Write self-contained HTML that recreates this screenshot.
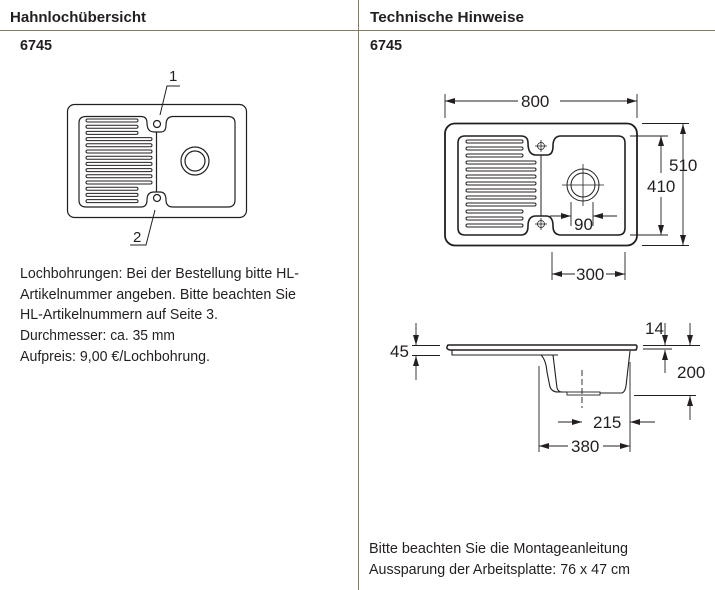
<!DOCTYPE html>
<html><head><meta charset="utf-8"><style>
html,body{margin:0;padding:0;background:#fff;width:715px;height:590px;overflow:hidden}
svg{display:block}
text{font-family:"Liberation Sans",sans-serif;fill:#231f20}
.h{font-weight:bold;font-size:15px}
.t{font-size:15px}
.d{font-size:17px}
</style></head><body>
<svg width="715" height="590" viewBox="0 0 715 590" xmlns="http://www.w3.org/2000/svg">
<defs>
<marker id="a" viewBox="0 0 10 6" refX="10" refY="3" markerWidth="10" markerHeight="6" orient="auto-start-reverse" markerUnits="userSpaceOnUse"><path d="M0,0L10,3L0,6z" fill="#231f20"/></marker>
</defs>
<line x1="0" y1="30.5" x2="715" y2="30.5" stroke="#8a7a60" stroke-width="1"/>
<line x1="358.5" y1="0" x2="358.5" y2="590" stroke="#8a7a60" stroke-width="1"/>
<text class="h" x="10" y="22" textLength="136" lengthAdjust="spacingAndGlyphs">Hahnlochübersicht</text>
<text class="h" x="20" y="50" textLength="32" lengthAdjust="spacingAndGlyphs">6745</text>
<text class="h" x="370" y="22" textLength="154" lengthAdjust="spacingAndGlyphs">Technische Hinweise</text>
<text class="h" x="370" y="50" textLength="32" lengthAdjust="spacingAndGlyphs">6745</text>

<g fill="none" stroke="#231f20" stroke-width="1.2">
<rect x="67.5" y="104.5" width="179" height="113" rx="7"/>
<path d="M86,116.5 H141 Q147,116.5 147,123 Q147,132 154,132 H161 Q166,132 166,125 Q166,116.5 173,116.5 H228 Q235,116.5 235,123 V200 Q235,207 228,207 H173 Q166,207 166,200 Q166,192 160,192 H154 Q147,192 147,200 Q147,207 141,207 H86 Q79,207 79,200 V123 Q79,116.5 86,116.5 Z"/>
<line x1="156.5" y1="132" x2="156.5" y2="192"/>
<circle cx="157" cy="124" r="3.5"/><circle cx="157" cy="198" r="3.5"/>
<circle cx="195" cy="161" r="14"/><circle cx="195" cy="161" r="10"/>
<g stroke-width="1">
<rect x="86" y="119" width="52" height="3" rx="1.5"/>
<rect x="86" y="125.2" width="52" height="3" rx="1.5"/>
<rect x="86" y="131.4" width="52" height="3" rx="1.5"/>
<rect x="86" y="137.6" width="66" height="3" rx="1.5"/>
<rect x="86" y="143.8" width="66" height="3" rx="1.5"/>
<rect x="86" y="150" width="66" height="3" rx="1.5"/>
<rect x="86" y="156.2" width="66" height="3" rx="1.5"/>
<rect x="86" y="162.4" width="66" height="3" rx="1.5"/>
<rect x="86" y="168.6" width="66" height="3" rx="1.5"/>
<rect x="86" y="174.8" width="66" height="3" rx="1.5"/>
<rect x="86" y="181" width="66" height="3" rx="1.5"/>
<rect x="86" y="187.2" width="52" height="3" rx="1.5"/>
<rect x="86" y="193.4" width="52" height="3" rx="1.5"/>
<rect x="86" y="199.6" width="52" height="3" rx="1.5"/>
</g>
<path d="M160,115 L167,86 H180" stroke-width="1"/>
<path d="M155,210 L146,245 H130" stroke-width="1"/>
</g>
<text class="t" x="169" y="81">1</text>
<text class="t" x="133" y="242">2</text>

<text class="t" x="20" y="278" textLength="279" lengthAdjust="spacingAndGlyphs">Lochbohrungen: Bei der Bestellung bitte HL-</text>
<text class="t" x="20" y="299" textLength="276" lengthAdjust="spacingAndGlyphs">Artikelnummer angeben. Bitte beachten Sie</text>
<text class="t" x="20" y="319" textLength="198" lengthAdjust="spacingAndGlyphs">HL-Artikelnummern auf Seite 3.</text>
<text class="t" x="20" y="340" textLength="155" lengthAdjust="spacingAndGlyphs">Durchmesser: ca. 35 mm</text>
<text class="t" x="20" y="361" textLength="190" lengthAdjust="spacingAndGlyphs">Aufpreis: 9,00 €/Lochbohrung.</text>

<g fill="none" stroke="#231f20">
<rect x="445" y="123.5" width="192" height="122" rx="10" stroke-width="1.8"/>
<path d="M465,136 H521 Q528,136 528,143 Q528,155 536,155 H547 Q553,155 553,146 Q553,136 561,136 H618 Q625,136 625,143 V228 Q625,235 618,235 H561 Q553,235 553,226 Q553,216 546,216 H536 Q528,216 528,226 Q528,235 521,235 H465 Q458,235 458,228 V143 Q458,136 465,136 Z" stroke-width="1.6"/>
<line x1="541" y1="155" x2="541" y2="216" stroke-width="1"/>
<circle cx="583" cy="185" r="16" stroke-width="1"/><circle cx="583" cy="185" r="12" stroke-width="1"/>
<g stroke-width="0.8">
<line x1="562" y1="185" x2="604" y2="185"/><line x1="583" y1="164" x2="583" y2="206"/>
<circle cx="541" cy="146" r="3.5"/><line x1="535" y1="146" x2="547" y2="146"/><line x1="541" y1="140" x2="541" y2="152"/>
<circle cx="541" cy="224" r="3.5"/><line x1="535" y1="224" x2="547" y2="224"/><line x1="541" y1="218" x2="541" y2="230"/>
</g>
<g stroke-width="1">
<rect x="466" y="140" width="57" height="3" rx="1.5"/>
<rect x="466" y="147" width="57" height="3" rx="1.5"/>
<rect x="466" y="154" width="57" height="3" rx="1.5"/>
<rect x="466" y="161" width="70" height="3" rx="1.5"/>
<rect x="466" y="168" width="70" height="3" rx="1.5"/>
<rect x="466" y="175" width="70" height="3" rx="1.5"/>
<rect x="466" y="182" width="70" height="3" rx="1.5"/>
<rect x="466" y="189" width="70" height="3" rx="1.5"/>
<rect x="466" y="196" width="70" height="3" rx="1.5"/>
<rect x="466" y="203" width="70" height="3" rx="1.5"/>
<rect x="466" y="210" width="57" height="3" rx="1.5"/>
<rect x="466" y="217" width="57" height="3" rx="1.5"/>
<rect x="466" y="224" width="57" height="3" rx="1.5"/>
</g>
<g stroke-width="0.9">
<line x1="445" y1="94" x2="445" y2="118"/><line x1="637" y1="94" x2="637" y2="118"/>
<line x1="445" y1="101" x2="518" y2="101" marker-start="url(#a)"/>
<line x1="560" y1="101" x2="637" y2="101" marker-end="url(#a)"/>
<line x1="642" y1="123.5" x2="689" y2="123.5"/><line x1="642" y1="245.5" x2="689" y2="245.5"/>
<line x1="683" y1="124" x2="683" y2="245" marker-start="url(#a)" marker-end="url(#a)"/>
<line x1="630" y1="136" x2="668" y2="136"/><line x1="630" y1="235" x2="668" y2="235"/>
<line x1="661" y1="136" x2="661" y2="173" marker-start="url(#a)"/>
<line x1="661" y1="197" x2="661" y2="235" marker-end="url(#a)"/>
<line x1="571" y1="202" x2="571" y2="226"/><line x1="593" y1="202" x2="593" y2="226"/>
<line x1="550" y1="216" x2="571" y2="216" marker-end="url(#a)"/>
<line x1="617" y1="216" x2="593" y2="216" marker-end="url(#a)"/>
<line x1="552" y1="252" x2="552" y2="280"/><line x1="625" y1="252" x2="625" y2="280"/>
<line x1="552" y1="274" x2="575" y2="274" marker-start="url(#a)"/>
<line x1="606" y1="274" x2="625" y2="274" marker-end="url(#a)"/>
</g>
</g>
<text class="d" x="521" y="107">800</text>
<text class="d" x="669" y="171">510</text>
<text class="d" x="647" y="192">410</text>
<text class="d" x="574" y="230">90</text>
<text class="d" x="576" y="280">300</text>

<g fill="none" stroke="#231f20">
<path d="M448,345 H636 Q638,346 636,350 H450 Q445,349 448,345 Z" stroke-width="1.5"/>
<path d="M452,350 V355 H558" stroke-width="1.1"/>
<path d="M541,355 Q546,360 547,372 L550,387 Q552,392 558,392 H567" stroke-width="1.1"/>
<path d="M553,355 L557,388 Q558,392 562,392" stroke-width="1.1"/>
<path d="M600,393 H622 Q625,392 626,386 L630,351" stroke-width="1.1"/>
<rect x="567" y="392" width="33" height="3" stroke-width="0.9"/>
<g stroke-width="0.9">
<line x1="582" y1="370" x2="582" y2="408" stroke-dasharray="6,3"/>
<line x1="412" y1="345.5" x2="440" y2="345.5"/><line x1="412" y1="355.5" x2="440" y2="355.5"/>
<line x1="416" y1="323" x2="416" y2="345" marker-end="url(#a)"/>
<line x1="416" y1="380" x2="416" y2="356" marker-end="url(#a)"/>
<line x1="643" y1="345.5" x2="700" y2="345.5"/><line x1="643" y1="349" x2="672" y2="349"/>
<line x1="665" y1="323" x2="665" y2="345" marker-end="url(#a)"/>
<line x1="690" y1="323" x2="690" y2="345" marker-end="url(#a)"/>
<line x1="665" y1="373" x2="665" y2="350" marker-end="url(#a)"/>
<line x1="634" y1="395.5" x2="696" y2="395.5"/>
<line x1="690" y1="420" x2="690" y2="396" marker-end="url(#a)"/>
<line x1="539" y1="366" x2="539" y2="452"/><line x1="630" y1="362" x2="630" y2="452"/>
<line x1="558" y1="422" x2="582" y2="422" marker-end="url(#a)"/>
<line x1="655" y1="422" x2="630" y2="422" marker-end="url(#a)"/>
<line x1="539" y1="446" x2="568" y2="446" marker-start="url(#a)"/>
<line x1="603" y1="446" x2="630" y2="446" marker-end="url(#a)"/>
</g>
</g>
<text class="d" x="390" y="357">45</text>
<text class="d" x="645" y="334">14</text>
<text class="d" x="677" y="378">200</text>
<text class="d" x="593" y="428">215</text>
<text class="d" x="571" y="452">380</text>

<text class="t" x="369" y="553" textLength="259" lengthAdjust="spacingAndGlyphs">Bitte beachten Sie die Montageanleitung</text>
<text class="t" x="369" y="574" textLength="261" lengthAdjust="spacingAndGlyphs">Aussparung der Arbeitsplatte: 76 x 47 cm</text>
</svg>
</body></html>
